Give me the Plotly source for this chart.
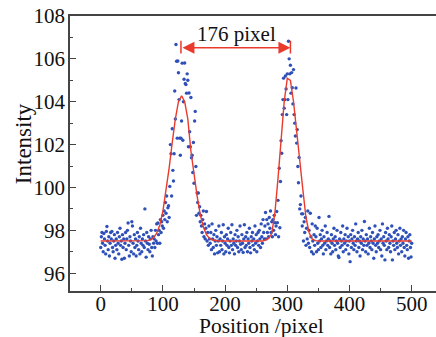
import plotly.graph_objects as go

# ---------------- data ----------------
x_pos = list(range(0, 501))

y_left_base = [
    97.2, 97.7, 97.9, 97.4, 97.0, 97.85, 97.6, 97.3, 96.9, 97.95,
    98.18, 97.5, 97.1, 97.7, 96.8, 97.4, 97.9, 97.6, 97.95, 97.2,
    97.0, 97.5, 97.8, 96.7, 97.3, 97.6, 97.1, 97.9, 97.4, 96.9,
    97.7, 98.1, 97.3, 97.5, 96.65, 97.8, 97.2, 97.6, 96.7, 97.4,
    97.9, 97.1, 97.6, 98.0, 98.34, 97.3, 96.8, 97.7, 97.5, 97.0,
    98.4, 98.2, 97.4, 96.9, 97.8, 97.2, 97.6, 96.8, 97.3, 97.9,
    97.5, 97.1, 97.7, 96.9, 98.1, 97.4, 97.0, 97.6, 97.3, 97.8,
    97.2, 99.0, 97.5, 96.75, 97.9, 97.4, 97.1, 97.7, 97.35, 97.0,
    97.6, 98.0, 97.2, 96.8, 97.7, 97.4,
]

y_peak1 = [
    97.6, 97.2, 98.0, 97.5, 98.3, 97.4, 98.34, 97.8, 98.0, 97.4,
    98.5, 97.9, 98.4, 98.2, 98.7, 98.1, 98.9, 98.5, 99.3, 98.8, 99.6, 98.4,
    99.05, 99.15, 98.6, 100.05, 102.0, 101.57, 99.6, 102.74, 100.8, 100.3,
    101.57, 104.5, 103.2, 106.67, 105.89, 102.3, 105.9, 105.35, 104.1, 102.3,
    101.5, 102.3, 103.1, 105.8, 102.2, 104.0, 105.05, 105.81, 104.85, 104.8,
    104.4, 105.3, 105.0, 101.9, 104.41, 102.6, 101.9, 104.2, 101.39, 101.5,
    100.7, 102.1, 100.2, 103.1, 103.55, 100.98, 98.7, 99.74, 99.3, 99.74,
    98.8, 99.1, 98.4, 98.7, 98.2, 97.9, 98.5, 98.9, 97.7, 98.3,
    97.6, 98.1, 98.88, 97.5, 97.9, 97.3, 98.2, 97.6,
]

y_mid_base = [
    97.4, 97.9, 97.1, 98.3, 97.6, 97.2, 97.8, 96.9, 97.5, 98.0,
    97.3, 97.7, 96.95, 97.5, 98.2, 97.0, 97.6, 97.3, 97.9, 97.1,
    97.5, 98.26, 96.9, 97.7, 97.4, 97.0, 97.8, 97.3, 97.6, 98.1,
    97.2, 96.95, 97.5, 97.9, 97.3, 98.26, 97.1, 97.6, 97.4, 96.9,
    97.8, 97.3, 97.5, 98.0, 97.2, 97.7, 97.0, 97.5, 98.2, 97.35,
    97.1, 97.8, 97.4, 96.97, 97.6, 98.26, 97.2, 97.7, 97.3, 97.9,
    97.0, 97.6, 97.4, 98.1, 97.2, 96.95, 97.7, 97.5, 97.9, 97.3,
    97.6, 97.1, 98.2, 97.4, 97.8, 97.0, 97.5, 97.9, 97.3, 98.0,
    97.6, 97.2, 98.3, 97.7, 97.4, 98.5, 97.9, 97.6, 98.2, 98.83,
]

y_peak2 = [
    97.6, 98.5, 97.9, 98.3, 97.7, 98.6, 98.1, 98.9, 97.9, 98.4,
    97.7, 98.5, 98.0, 98.7, 98.36, 97.8, 98.2, 98.88, 98.36, 99.4,
    97.7, 100.9, 98.12, 100.28, 102.18, 101.6, 103.4, 104.1, 105.1, 103.7,
    104.1, 105.2, 104.6, 103.4, 105.3, 104.1, 106.82, 106.0, 105.3, 105.7,
    104.4, 105.36, 104.65, 103.9, 105.5, 103.4, 103.0, 102.4, 104.64, 102.07,
    102.7, 100.98, 100.22, 101.4, 99.0, 99.2, 99.6, 98.77, 98.2, 98.77,
    97.5, 98.4, 97.9, 98.6, 97.3, 98.1, 97.6, 98.9, 97.4, 98.0,
    97.2, 98.8, 97.7, 97.0, 98.3, 97.5, 96.9, 97.8, 97.3, 98.2,
]

y_right_base = [
    97.7, 97.0, 98.1, 97.4, 97.1, 98.6, 97.5, 97.8, 97.2, 97.6,
    98.0, 97.3, 96.9, 97.7, 97.4, 98.2, 97.1, 97.5, 97.9, 97.3,
    97.6, 98.65, 97.2, 97.5, 96.9, 97.8, 97.4, 97.0, 97.6, 98.1,
    97.3, 97.7, 97.1, 97.5, 98.0, 97.4, 96.8, 96.73, 97.6, 97.2,
    97.9, 97.5, 97.3, 98.2, 97.0, 97.6, 97.4, 97.8, 97.1, 97.5,
    98.1, 97.3, 97.7, 96.9, 97.5, 96.54, 97.8, 97.2, 97.6, 98.0,
    97.4, 97.1, 97.7, 97.3, 98.3, 97.5, 97.0, 97.6, 97.9, 97.2,
    97.5, 96.8, 97.7, 97.4, 98.0, 97.1, 97.6, 97.3, 98.41, 97.5,
    97.0, 97.8, 97.3, 97.6, 96.9, 97.4, 98.1, 97.2, 97.7, 97.5,
    97.1, 97.9, 97.4, 96.7, 97.6, 98.2, 97.3, 97.0, 97.7, 97.4,
    97.8, 97.2, 97.5, 98.0, 97.1, 97.6, 96.8, 98.3, 97.4, 97.7,
    97.3, 96.62, 97.9, 97.5, 97.1, 98.1, 97.6, 97.2, 97.8, 97.4,
    97.0, 97.7, 98.2, 96.62, 97.5, 97.3, 97.9, 97.1, 97.6, 98.0,
    97.4, 97.2, 97.8, 96.9, 97.5, 98.1, 97.3, 97.6, 97.0, 97.7,
    97.4, 98.0, 97.2, 96.8, 97.6, 97.9, 97.3, 97.1, 97.7, 96.7,
    97.5, 97.8, 97.2, 96.76, 97.4,
]

intensity = y_left_base + y_peak1 + y_mid_base + y_peak2 + y_right_base

fit_x = list(range(0, 501, 5))
fit_y = (
    [97.5] * 15
    + [97.52, 97.56, 97.66, 97.87, 98.25, 98.9, 99.8, 100.9, 102.1, 103.2,
       104.0, 104.28, 104.0, 103.2, 101.7, 100.6, 99.6, 98.75, 98.15, 97.8,
       97.62, 97.55, 97.52]
    + [97.5] * 15
    + [97.55, 97.62, 97.85, 98.8, 100.4, 102.3, 104.0, 105.1, 105.0, 104.0,
       102.6, 101.0, 99.9, 98.6, 97.9, 97.6, 97.52]
    + [97.5] * 31
)

peak_left = 129
peak_right = 305
arrow_level = 106.52
label_text = "176 pixel"

x_ticks = [0, 100, 200, 300, 400, 500]
y_ticks = [96, 98, 100, 102, 104, 106, 108]

FONT = "Liberation Serif, Times New Roman, serif"
RED = "#ea3a2c"
BLUE = "#2f50b8"

fig = go.Figure()
fig.add_trace(go.Scatter(
    x=x_pos, y=intensity, mode="markers",
    marker=dict(color=BLUE, size=3.4, line=dict(width=0)),
    showlegend=False,
))
fig.add_trace(go.Scatter(
    x=fit_x, y=fit_y, mode="lines",
    line=dict(color=RED, width=1.4),
    showlegend=False,
))

# double arrow
fig.add_annotation(
    x=peak_right, y=arrow_level, ax=peak_left, ay=arrow_level,
    xref="x", yref="y", axref="x", ayref="y",
    text="", showarrow=True, arrowside="end+start",
    arrowhead=2, arrowsize=1.6, arrowwidth=1.5, arrowcolor=RED,
    standoff=0, startstandoff=0,
)
for xb in (peak_left, peak_right):
    fig.add_shape(type="line", xref="x", yref="y",
                  x0=xb, x1=xb, y0=arrow_level - 0.27, y1=arrow_level + 0.33,
                  line=dict(color=RED, width=1.5))
fig.add_annotation(
    x=(peak_left + peak_right) / 2 + 1, y=107.17, xref="x", yref="y",
    text=label_text, showarrow=False, xanchor="center", yanchor="middle",
    font=dict(family=FONT, size=21, color="#111"),
)

# axis titles
fig.add_annotation(
    x=-0.128, y=0.5345, xref="paper", yref="paper",
    xanchor="center", yanchor="middle",
    text="Intensity", textangle=-90, showarrow=False,
    font=dict(family=FONT, size=23, color="#111"),
)
fig.add_annotation(
    x=0.522, y=-0.1265, xref="paper", yref="paper",
    xanchor="center", yanchor="middle",
    text="Position /pixel", showarrow=False,
    font=dict(family=FONT, size=21.5, color="#111"),
)

axis_common = dict(
    showgrid=False, zeroline=False,
    showline=True, linecolor="#444", linewidth=1.5,
    ticks="inside", ticklen=6, tickwidth=1.2, tickcolor="#444",
)

fig.update_xaxes(
    range=[-49.4, 539.1], tickvals=x_ticks, mirror=True,
    tickfont=dict(family=FONT, size=21, color="#111"),
    ticklabelstandoff=-7,
    minor=dict(ticks="inside", ticklen=3, tickwidth=1, tickcolor="#444", dtick=50, tick0=0),
    **axis_common,
)
fig.update_yaxes(
    range=[95.17, 108.0], tickvals=y_ticks, mirror=False,
    tickfont=dict(family=FONT, size=21, color="#111"),
    ticklabelstandoff=-1,
    minor=dict(ticks="inside", ticklen=3, tickwidth=1, tickcolor="#444", dtick=1, tick0=95),
    **axis_common,
)

fig.update_layout(
    width=436, height=337,
    margin=dict(l=70, r=0, t=16, b=46),
    paper_bgcolor="white", plot_bgcolor="white",
    font=dict(family=FONT),
)

fig.write_html("out.html")
